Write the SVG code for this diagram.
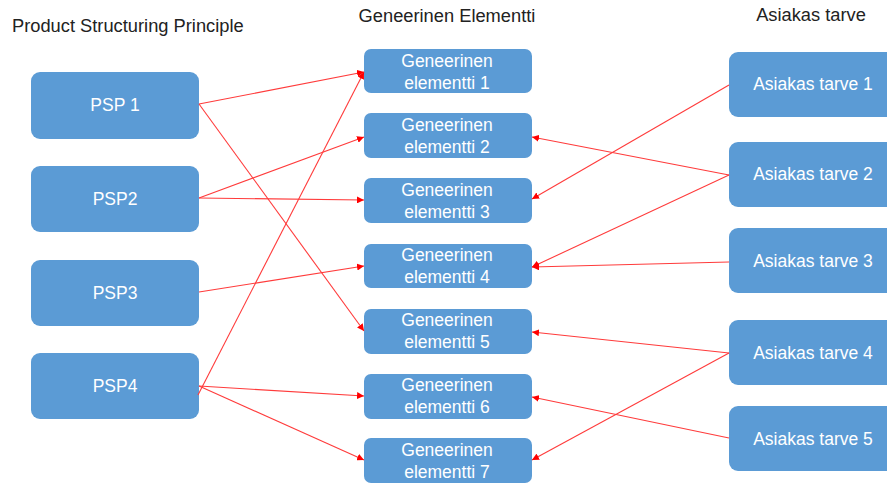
<svg xmlns="http://www.w3.org/2000/svg" width="887" height="483" viewBox="0 0 887 483">
  <style>
    .box { fill: #5B9BD5; }
    .lbl { font-family: "Liberation Sans", Arial, sans-serif; font-size: 17.5px; fill: #FFFFFF; text-anchor: middle; }
    .hdr { font-family: "Liberation Sans", Arial, sans-serif; font-size: 18.3px; fill: #222222; }
    .link { stroke: #FF3B3B; stroke-width: 1.1; fill: none; marker-end: url(#arrow); }
  </style>
  <defs>
    <marker id="arrow" viewBox="0 0 10 10" refX="10" refY="5" markerWidth="7" markerHeight="7" markerUnits="userSpaceOnUse" orient="auto">
      <path d="M0,0 L10,5 L0,10 z" fill="#FF0000"/>
    </marker>
  </defs>
  <rect width="887" height="483" fill="#FFFFFF"/>

  <!-- column headings -->
  <text class="hdr" x="12" y="32">Product Structuring Principle</text>
  <text class="hdr" x="447" y="22" text-anchor="middle">Geneerinen Elementti</text>
  <text class="hdr" x="811" y="21" text-anchor="middle">Asiakas tarve</text>

  <!-- product structuring principles -->
  <g id="psp1"><rect class="box" x="31" y="72" width="168" height="67" rx="9"/><text class="lbl" x="115" y="111">PSP 1</text></g>
  <g id="psp2"><rect class="box" x="31" y="166" width="168" height="66" rx="9"/><text class="lbl" x="115" y="205">PSP2</text></g>
  <g id="psp3"><rect class="box" x="31" y="260" width="168" height="66" rx="9"/><text class="lbl" x="115" y="299">PSP3</text></g>
  <g id="psp4"><rect class="box" x="31" y="353" width="168" height="66" rx="9"/><text class="lbl" x="115" y="392">PSP4</text></g>

  <!-- generic elements -->
  <g id="ge1"><rect class="box" x="364" y="49" width="168" height="44" rx="7"/><text class="lbl" x="447" y="67">Geneerinen</text><text class="lbl" x="447" y="89">elementti 1</text></g>
  <g id="ge2"><rect class="box" x="364" y="113" width="168" height="45" rx="7"/><text class="lbl" x="447" y="131">Geneerinen</text><text class="lbl" x="447" y="153">elementti 2</text></g>
  <g id="ge3"><rect class="box" x="364" y="178" width="168" height="45" rx="7"/><text class="lbl" x="447" y="196">Geneerinen</text><text class="lbl" x="447" y="218">elementti 3</text></g>
  <g id="ge4"><rect class="box" x="364" y="244" width="168" height="44" rx="7"/><text class="lbl" x="447" y="261">Geneerinen</text><text class="lbl" x="447" y="283">elementti 4</text></g>
  <g id="ge5"><rect class="box" x="364" y="309" width="168" height="45" rx="7"/><text class="lbl" x="447" y="326">Geneerinen</text><text class="lbl" x="447" y="348">elementti 5</text></g>
  <g id="ge6"><rect class="box" x="364" y="374" width="168" height="45" rx="7"/><text class="lbl" x="447" y="391">Geneerinen</text><text class="lbl" x="447" y="413">elementti 6</text></g>
  <g id="ge7"><rect class="box" x="364" y="438" width="168" height="45" rx="7"/><text class="lbl" x="447" y="456">Geneerinen</text><text class="lbl" x="447" y="478">elementti 7</text></g>

  <!-- customer needs -->
  <g id="at1"><rect class="box" x="729" y="52" width="172" height="65" rx="9"/><text class="lbl" x="813" y="90">Asiakas tarve 1</text></g>
  <g id="at2"><rect class="box" x="729" y="142" width="172" height="65" rx="9"/><text class="lbl" x="813" y="180">Asiakas tarve 2</text></g>
  <g id="at3"><rect class="box" x="729" y="228" width="172" height="65" rx="9"/><text class="lbl" x="813" y="267">Asiakas tarve 3</text></g>
  <g id="at4"><rect class="box" x="729" y="320" width="172" height="65" rx="9"/><text class="lbl" x="813" y="359">Asiakas tarve 4</text></g>
  <g id="at5"><rect class="box" x="729" y="406" width="172" height="65" rx="9"/><text class="lbl" x="813" y="445">Asiakas tarve 5</text></g>

  <!-- connectors -->
  <g id="connectors">
    <line class="link" x1="199" y1="104" x2="364" y2="72"/>
    <line class="link" x1="199" y1="104" x2="364" y2="331"/>
    <line class="link" x1="199" y1="198" x2="364" y2="137"/>
    <line class="link" x1="199" y1="198" x2="364" y2="200"/>
    <line class="link" x1="199" y1="292" x2="364" y2="266"/>
    <line class="link" x1="198" y1="395" x2="364" y2="72"/>
    <line class="link" x1="199" y1="386" x2="364" y2="396"/>
    <line class="link" x1="199" y1="386" x2="364" y2="460"/>
    <line class="link" x1="729" y1="85" x2="532" y2="199"/>
    <line class="link" x1="729" y1="175" x2="532" y2="137"/>
    <line class="link" x1="729" y1="175" x2="532" y2="267"/>
    <line class="link" x1="729" y1="262" x2="532" y2="267"/>
    <line class="link" x1="729" y1="353" x2="532" y2="332"/>
    <line class="link" x1="729" y1="353" x2="532" y2="460"/>
    <line class="link" x1="729" y1="438" x2="532" y2="397"/>
  </g>
</svg>
